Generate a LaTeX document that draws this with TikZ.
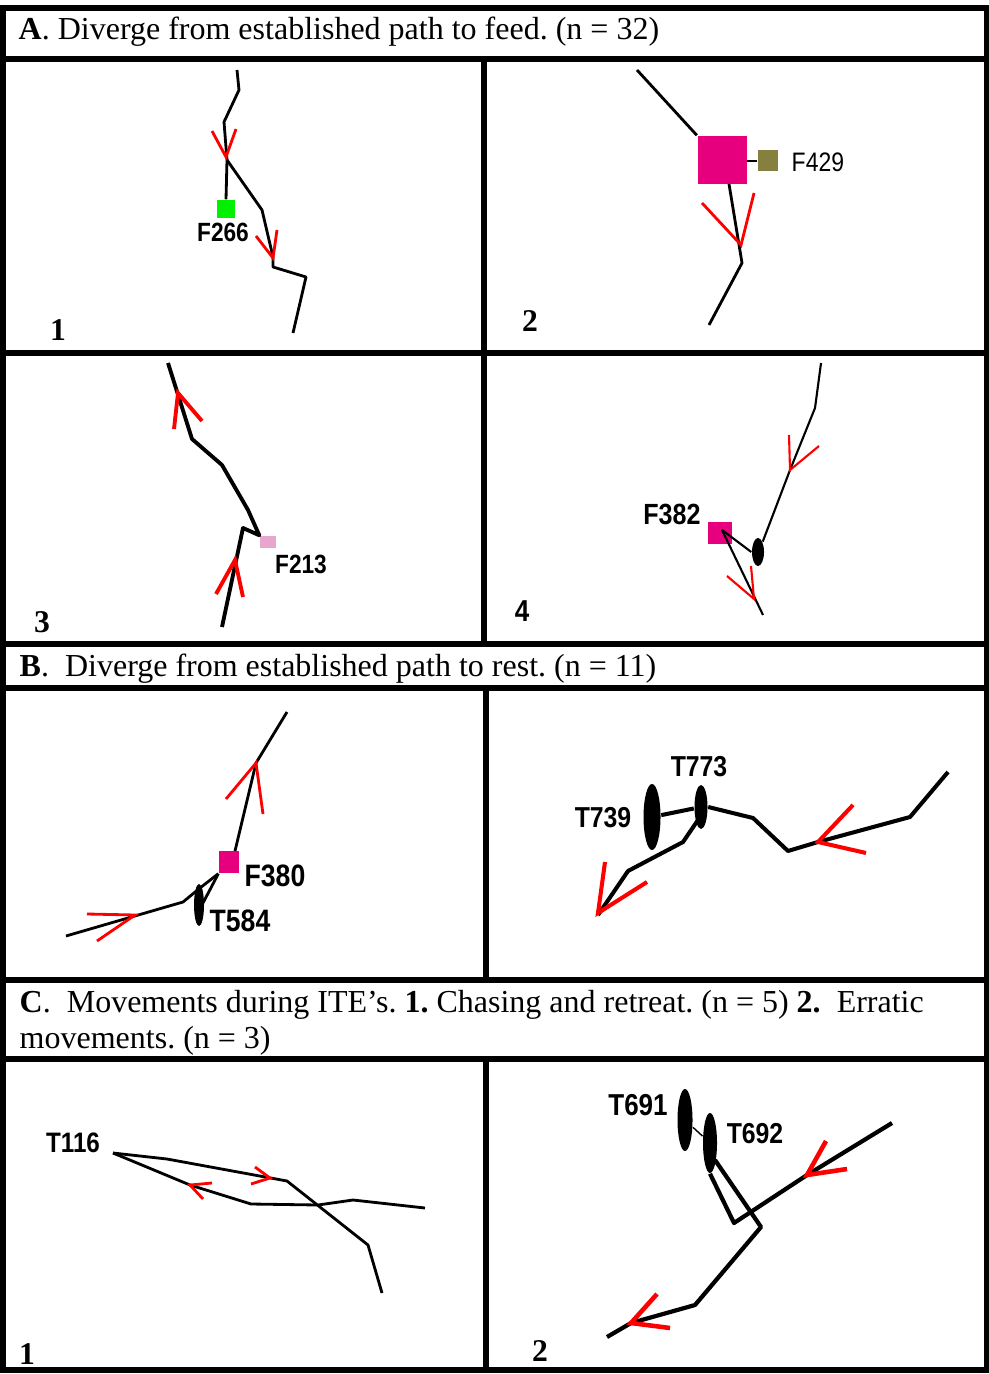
\documentclass[tikz,border=0pt]{standalone}
\usepackage{fontspec}
\setmainfont{Liberation Serif}
\newfontfamily\tagfont[FakeStretch=0.86]{Liberation Sans}
\usetikzlibrary{shapes.geometric}
\frenchspacing

\definecolor{feedmag}{RGB}{230,0,126}
\definecolor{feedgreen}{RGB}{0,240,0}
\definecolor{feedolive}{RGB}{133,128,64}
\definecolor{feedpink}{RGB}{232,165,205}

\begin{document}
\begin{tikzpicture}[x=0.01cm, y=-0.01cm,
  % Node styles
  feeder/.style={rectangle, inner sep=0pt, draw=none},
  termite/.style={ellipse, fill=black, inner sep=0pt},
  tag/.style={font=\tagfont\bfseries\fontsize{#1}{#1}\selectfont, inner sep=0pt},
  tag/.default=8,
  num/.style={font=\bfseries\fontsize{9}{9}\selectfont, inner sep=0pt},
  headtxt/.style={font=\fontsize{9.1}{10}\selectfont, inner sep=0pt, anchor=base west},
  % Line styles
  tblline/.style={line width=1.6pt},
  trk/.style={draw=black, line width=#1, line join=round},
  trk/.default=0.8pt,
  rv/.style={draw=red, line width=#1},
  rv/.default=0.8pt,
]
\useasboundingbox (0,0) rectangle (989,1374);

% === Column positions ===
\def\midA{484}
\def\midB{486}

% === Table frame ===
\draw[tblline] (3,8) rectangle (987,1370);
\foreach \yy in {59,353,644,688,980,1059}
  \draw[tblline] (3,\yy) -- (987,\yy);
\draw[tblline] (\midA,59) -- (\midA,644);
\draw[tblline] (\midB,688) -- (\midB,980);
\draw[tblline] (\midB,1059) -- (\midB,1370);

% === Headers ===
\node[headtxt] (hA) at (18,40) {\textbf{A}. Diverge from established path to feed. (n = 32)};
\node[headtxt] (hB) at (19,676) {\textbf{B}.\ \ Diverge from established path to rest. (n = 11)};
\node[headtxt] (hC1) at (19,1012) {\textbf{C}.\ \ Movements during ITE's. \textbf{1.} Chasing and retreat. (n = 5) \textbf{2.}\ \ Erratic};
\node[headtxt] (hC2) at (19,1048) {movements. (n = 3)};

% === Panel A1 ===
\node[feeder, fill=feedgreen, minimum width=0.18cm, minimum height=0.18cm] (f266) at (226,209) {};
\node[tag=7.5] (l266) at (223,232) {F266};
\node[num] (nA1) at (58,330) {1};
\draw[trk] (237,70) -- (239,90) -- (224,122) -- (227,160) -- (f266.north);
\draw[trk] (227,160) -- (262,210) -- (273,257) -- (273,267) -- (306,277) -- (293,333);
\draw[rv] (212,131) -- (226,157) -- (236,129);
\draw[rv] (256,236) -- (273,258) -- (277,230);

% === Panel A2 ===
\node[feeder, fill=feedmag, minimum width=0.49cm, minimum height=0.48cm] (fbig) at (722,160) {};
\node[feeder, fill=feedolive, minimum width=0.2cm, minimum height=0.21cm] (f429) at (768,161) {};
\node[font=\tagfont\fontsize{7.6}{7.6}\selectfont, inner sep=0pt, anchor=west] (l429) at (791,162) {F429};
\node[num] (nA2) at (530,321) {2};
\draw[trk] (637,70) -- (fbig.north west);
\draw[trk] (fbig.east |- f429.west) -- (f429.west);
\draw[trk] (729,184) -- (742,263) -- (709,325);
\draw[rv] (702,203) -- (741,245) -- (754,193);

% === Panel A3 ===
\node[feeder, fill=feedpink, minimum width=0.16cm, minimum height=0.12cm] (f213) at (268,542) {};
\node[tag=7.5] (l213) at (301,564) {F213};
\node[num] (nA3) at (42,622) {3};
\draw[trk=1.1pt] (222,627) -- (243,528) -- (f213.north west) -- (248,510) -- (222,465) -- (192,439) -- (168,363);
\draw[rv=1.1pt] (174,429) -- (178,393) -- (202,421);
\draw[rv=1.1pt] (216,594) -- (235,560) -- (243,597);

% === Panel A4 ===
\node[feeder, fill=feedmag, minimum width=0.24cm, minimum height=0.22cm] (f382) at (720,533) {};
\node[termite, minimum width=0.12cm, minimum height=0.28cm] (tA4) at (758,552) {};
\node[tag=8.3] (l382) at (672,514) {F382};
\node[font=\tagfont\bfseries\fontsize{8.6}{8.6}\selectfont, inner sep=0pt] (nA4) at (522,611) {4};
\draw[trk=0.6pt] (821,363) -- (815,408) -- (790,470) -- (tA4.north east);
\draw[trk=0.6pt] (722,530) -- (tA4.west);
\draw[trk=0.6pt] (722,530) -- (763,615);
\draw[rv=0.6pt] (789,435) -- (790,470) -- (819,446);
\draw[rv=0.6pt] (727,576) -- (754,599) -- (751,566);

% === Panel B1 ===
\node[feeder, fill=feedmag, minimum width=0.2cm, minimum height=0.22cm] (f380) at (229,862) {};
\node[termite, minimum width=0.1cm, minimum height=0.42cm] (t584) at (199,905) {};
\node[tag=8.8] (l380) at (275,876) {F380};
\node[tag=8.8] (l584) at (240,921) {T584};
\draw[trk] (287,712) -- (256,763) -- (235,851);
\draw[trk] (f380.south west) -- (200,888) -- (183,902) -- (66,936);
\draw[trk] (f380.south west) -- (203,903);
\draw[rv] (226,799) -- (256,763) -- (263,814);
\draw[rv] (87,914) -- (135,915) -- (97,941);

% === Panel B2 ===
\node[termite, minimum width=0.13cm, minimum height=0.44cm] (t773) at (701,807) {};
\node[termite, minimum width=0.17cm, minimum height=0.66cm] (t739) at (652,817) {};
\node[tag=8.2] (l773) at (699,767) {T773};
\node[tag=8.2] (l739) at (603,818) {T739};
\draw[trk=1.15pt] (948,772) -- (910,817) -- (818,842) -- (788,851) -- (753,818) -- (t773.east);
\draw[trk=1.15pt] (t773) -- (t739);
\draw[trk=1.15pt] (698,820) -- (683,842) -- (628,871) -- (598,915);
\draw[rv=1.15pt] (853,805) -- (818,842) -- (866,853);
\draw[rv=1.15pt] (605,862) -- (598,913) -- (647,882);

% === Panel C1 ===
\node[tag=8] (l116) at (73,1143) {T116};
\coordinate (s116) at (113,1153);
\node[num] (nC1) at (27,1354) {1};
\draw[trk] (s116) -- (167,1159) -- (287,1181) -- (368,1245) -- (382,1293);
\draw[trk] (s116) -- (190,1185) -- (251,1204) -- (318,1205) -- (353,1200) -- (425,1208);
\draw[rv] (255,1167) -- (270,1178) -- (251,1184);
\draw[rv] (212,1183) -- (190,1185) -- (203,1199);

% === Panel C2 ===
\node[termite, minimum width=0.15cm, minimum height=0.62cm] (t691) at (685,1120) {};
\node[termite, minimum width=0.14cm, minimum height=0.6cm] (t692) at (710,1143) {};
\node[tag=8.6] (l691) at (638,1105) {T691};
\node[tag=8.2] (l692) at (755,1134) {T692};
\node[num] (nC2) at (540,1351) {2};
\draw[trk=0.4pt] (t691) -- (t692);
\draw[trk=1.2pt] (892,1123) -- (807,1175) -- (734,1223) -- (t692.south);
\draw[trk=1.2pt] (715,1160) -- (761,1227) -- (695,1305) -- (631,1323) -- (607,1337);
\draw[rv=1.3pt] (826,1141) -- (807,1175) -- (847,1169);
\draw[rv=1.3pt] (657,1294) -- (631,1323) -- (670,1328);

\end{tikzpicture}
\end{document}
